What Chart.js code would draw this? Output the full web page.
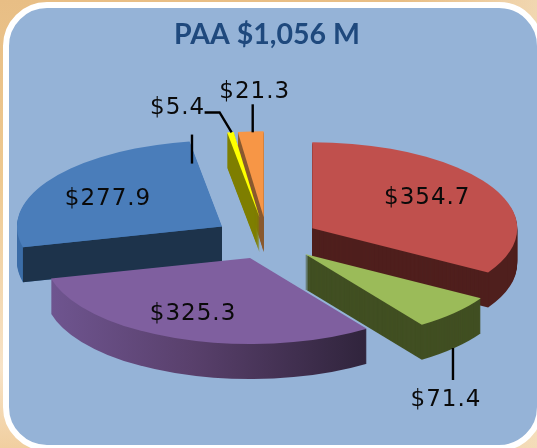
<!DOCTYPE html>
<html><head><meta charset="utf-8">
<style>
html,body{margin:0;padding:0;width:537px;height:448px;overflow:hidden;background:linear-gradient(90deg,rgba(245,225,195,0) 75%,rgba(245,225,195,.7) 100%),linear-gradient(180deg,#e8be85 0%,#eec990 40%,#f7e3c8 82%,#f1cfa0 100%)}
#card{position:absolute;left:3px;top:2px;width:528px;height:437px;border:6px solid #fff;border-radius:44px;background:#95b3d7}
canvas{position:absolute;left:0;top:0}
</style>
<script src="https://cdn.jsdelivr.net/npm/chart.js@4"></script>
</head><body>
<div id="card"></div>
<canvas id="c" width="537" height="448"></canvas>
<script>
const categories = ['A','B','C','D','E','F'];
const values = [354.7, 71.4, 325.3, 277.9, 5.4, 21.3];
const topColors = ['#C0504D','#9BBB59','#7F5F9F','#4A7DBA','#FFFF00','#F79646'];
const explode = [52, 52, 48, 54, 52, 52];
const titleText = 'PAA $1,056 M';

const TILT = 0.42, DEPTH = 35;
const paintOrder = [3, 5, 4, 0, 2, 1];
const rimColors = ['#4F1F1D','#414F22',null,'#3d6ea8','#7F7F00','#8A5A30'];
const labelSpots = [[115,-30],[141,146],[-57,56],[-114,-28],[-82,-109],[-9,-125]];
const leaders = [
  [],
  [[148,94],[148,126]],
  [],
  [[-30,-92],[-30,-63]],
  [[-55,-105],[-40,-105],[-28,-85]],
  [[-11,-113],[-11,-85]]
];

const pie3d = {
  id: 'pie3d',
  beforeDatasetDraw(chart) {
    const ctx = chart.ctx;
    const arcs = chart.getDatasetMeta(0).data;
    const apex = i => {
      const a = arcs[i], mid = (a.startAngle + a.endAngle) / 2, o = a.options.offset;
      return [a.x + Math.cos(mid) * o, a.y + Math.sin(mid) * o * TILT];
    };
    const slice = (i, drop) => {
      const a = arcs[i], p = apex(i);
      ctx.save();
      ctx.translate(p[0], p[1] + drop);
      ctx.scale(1, TILT);
      ctx.beginPath();
      ctx.moveTo(0, 0);
      ctx.arc(0, 0, a.outerRadius, a.startAngle, a.endAngle);
      ctx.closePath();
      ctx.restore();
      ctx.fill();
    };
    paintOrder.forEach(i => {
      const a = arcs[i], p = apex(i);
      let rim = rimColors[i];
      if (!rim) {
        rim = ctx.createLinearGradient(p[0] - 201, 0, p[0] + 116, 0);
        rim.addColorStop(0, '#6F5590');
        rim.addColorStop(0.45, '#59406C');
        rim.addColorStop(1, '#30243C');
      }
      ctx.fillStyle = rim;
      for (let d = DEPTH; d > 0; d--) slice(i, d);
      if (i === 3) { // the blue slice shows its flat cut face towards the viewer
        const cx = p[0] + Math.cos(a.startAngle) * a.outerRadius;
        const cy = p[1] + Math.sin(a.startAngle) * a.outerRadius * TILT;
        ctx.fillStyle = '#1D334B';
        ctx.beginPath();
        ctx.moveTo(p[0], p[1]); ctx.lineTo(cx, cy);
        ctx.lineTo(cx, cy + DEPTH); ctx.lineTo(p[0], p[1] + DEPTH);
        ctx.closePath(); ctx.fill();
      }
      ctx.fillStyle = a.options.backgroundColor;
      slice(i, 0);
    });
    // leader lines and value labels
    ctx.save();
    ctx.strokeStyle = '#000'; ctx.lineWidth = 2.4;
    leaders.forEach((pts, i) => {
      if (!pts.length) return;
      const p = apex(i);
      ctx.beginPath();
      pts.forEach((q, n) => n ? ctx.lineTo(p[0]+q[0], p[1]+q[1]) : ctx.moveTo(p[0]+q[0], p[1]+q[1]));
      ctx.stroke();
    });
    ctx.fillStyle = '#0a0a0a';
    ctx.font = '23px "DejaVu Sans"';
    ctx.letterSpacing = '1px';
    ctx.textAlign = 'center'; ctx.textBaseline = 'middle';
    values.forEach((v, i) => {
      const p = apex(i);
      ctx.fillText('$' + v.toFixed(1), p[0] + labelSpots[i][0], p[1] + labelSpots[i][1]);
    });
    ctx.restore();
    return false;
  }
};

new Chart(document.getElementById('c'), {
  type: 'pie',
  plugins: [pie3d],
  data: {
    labels: categories,
    datasets: [{ data: values, backgroundColor: topColors, offset: explode, borderWidth: 0, radius: 205 }]
  },
  options: {
    responsive: false,
    animation: false,
    layout: { padding: { left: 0, right: 3, top: 0, bottom: 22 } },
    plugins: {
      legend: { display: false },
      tooltip: { enabled: false },
      title: {
        display: true, text: titleText, color: '#1F497D',
        font: { family: 'Lato', size: 28.5, weight: 'bold' },
        padding: { top: 18, bottom: 0 }
      }
    }
  }
});
</script>
</body></html>
